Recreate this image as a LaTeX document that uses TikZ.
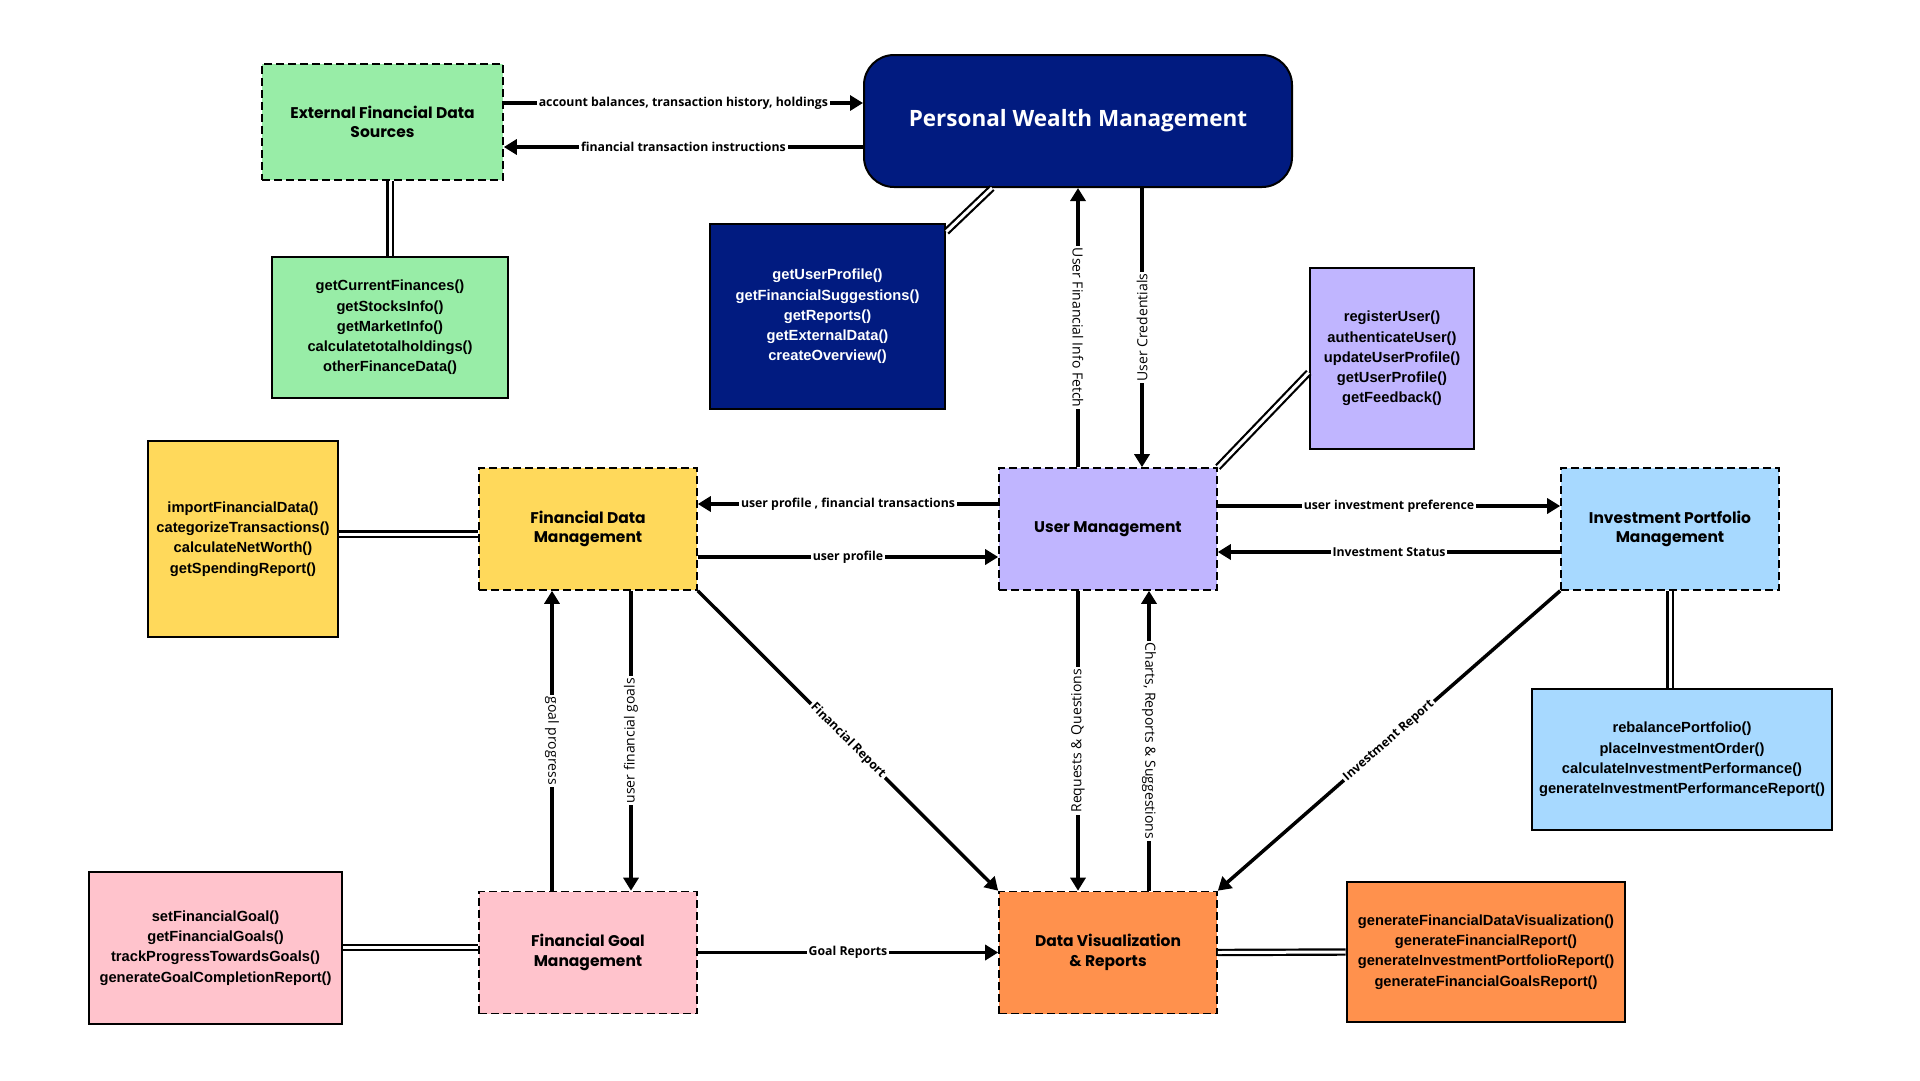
\documentclass[tikz,border=0pt]{standalone}
\usepackage{fontspec}
\usepackage{tikz}
\usetikzlibrary{arrows.meta,positioning,calc}

\newfontfamily\titlefont{Poppins}
\newfontfamily\methfont{Liberation Sans}
\newfontfamily\labelfont{Open Sans}

\definecolor{extgreen}{HTML}{98EDA7}
\definecolor{pwmnavy}{HTML}{011B80}
\definecolor{fdmyellow}{HTML}{FFD95B}
\definecolor{umpurple}{HTML}{C0B5FF}
\definecolor{ipmblue}{HTML}{A7D9FF}
\definecolor{fgmpink}{HTML}{FFC3CC}
\definecolor{dvrorange}{HTML}{FF914D}

\begin{document}
\begin{tikzpicture}[x=1pt, y=-1pt, >={Triangle[length=13pt,width=15pt]}]
\tikzstyle{module}=[draw=black, line width=1.6pt, dash pattern=on 8pt off 4pt, minimum width=218pt, minimum height=122pt, align=center, font=\titlefont\bfseries\fontsize{15.5}{19.5}\selectfont]
\tikzstyle{hub}=[draw=black, line width=2pt, rounded corners=30pt, fill=pwmnavy, text=white, minimum width=428pt, minimum height=132pt, font=\labelfont\bfseries\fontsize{22.5}{28}\selectfont]
\tikzstyle{methods}=[draw=black, line width=2.6pt, align=center, font=\methfont\bfseries\fontsize{14.7}{20.2}\selectfont]
\tikzstyle{flow}=[->, line width=3.5pt]
\tikzstyle{link}=[line width=2.2pt, double=white, double distance=3pt]
\tikzstyle{lbl}=[fill=white, inner sep=2pt, font=\labelfont\bfseries\fontsize{12.3}{14}\selectfont]
\tikzstyle{vlbl}=[fill=white, inner sep=2pt, font=\labelfont\fontsize{14}{16}\selectfont]

\fill[white] (0,0) rectangle (1920,1080);
\useasboundingbox (0,0) rectangle (1920,1080);

% modules
\node[module, fill=extgreen, minimum width=241pt, minimum height=116pt] (ext) at (382.5,122) {External Financial Data\\Sources};
\node[hub] (pwm) at (1078,121) {Personal Wealth Management};
\node[module, fill=fdmyellow] (fdm) at (588,529) {Financial Data\\Management};
\node[module, fill=umpurple] (um) at (1108,529) {User Management};
\node[module, fill=ipmblue] (ipm) at (1670,529) {Investment Portfolio\\Management};
\node[module, fill=fgmpink] (fgm) at (588,952.5) {Financial Goal\\Management};
\node[module, fill=dvrorange] (dvr) at (1108,952.5) {Data Visualization\\\& Reports};

% method boxes
\node[methods, fill=extgreen, minimum width=236pt, minimum height=141pt] (extfn) at (390,327.5) {getCurrentFinances()\\getStocksInfo()\\getMarketInfo()\\calculatetotalholdings()\\otherFinanceData()};
\node[methods, fill=pwmnavy, text=white, minimum width=235pt, minimum height=185pt] (pwmfn) at (827.5,316.5) {getUserProfile()\\getFinancialSuggestions()\\getReports()\\getExternalData()\\createOverview()};
\node[methods, fill=umpurple, minimum width=164pt, minimum height=181pt] (umfn) at (1392,358.5) {registerUser()\\authenticateUser()\\updateUserProfile()\\getUserProfile()\\getFeedback()};
\node[methods, fill=fdmyellow, minimum width=190pt, minimum height=196pt] (fdmfn) at (243,539) {importFinancialData()\\categorizeTransactions()\\calculateNetWorth()\\getSpendingReport()};
\node[methods, fill=ipmblue, minimum width=300pt, minimum height=141pt] (ipmfn) at (1682,759.5) {rebalancePortfolio()\\placeInvestmentOrder()\\calculateInvestmentPerformance()\\generateInvestmentPerformanceReport()};
\node[methods, fill=fgmpink, minimum width=253pt, minimum height=152pt] (fgmfn) at (215.5,948) {setFinancialGoal()\\getFinancialGoals()\\trackProgressTowardsGoals()\\generateGoalCompletionReport()};
\node[methods, fill=dvrorange, minimum width=278pt, minimum height=140pt] (dvrfn) at (1486,952) {generateFinancialDataVisualization()\\generateFinancialReport()\\generateInvestmentPortfolioReport()\\generateFinancialGoalsReport()};

% method links
\path
(extfn.north) edge[link] (extfn.north |- ext.south)
([xshift=-86pt]pwm.south) edge[link] ([yshift=-9pt]pwmfn.north east)
(um.north east) edge[link] ([yshift=-14pt]umfn.west)
([yshift=-5pt]fdm.west) edge[link] ([yshift=-5pt]fdm.west -| fdmfn.east)
(ipm.south) edge[link] (ipm.south |- ipmfn.north)
([yshift=5pt]fgm.west) edge[link] ([yshift=5pt]fgm.west -| fgmfn.east)
(dvr.east) edge[link] (dvrfn.west);

% data flows
\path
([yshift=19pt]ext.east) edge[flow] node[lbl]{account balances, transaction history, holdings} ([yshift=19pt]ext.east -| pwm.west)
([yshift=-26pt]pwm.west) edge[flow] node[lbl]{financial transaction instructions} ([yshift=-26pt]pwm.west -| ext.east)
([xshift=-30pt]um.north) edge[flow] node[vlbl, rotate=-90]{User Financial Info Fetch} ([xshift=-30pt]um.north |- pwm.south)
([xshift=34pt]um.north |- pwm.south) edge[flow] node[vlbl, rotate=90]{User Credentials} ([xshift=34pt]um.north)
([yshift=25pt]um.west) edge[flow] node[lbl]{user profile , financial transactions} ([yshift=25pt]um.west -| fdm.east)
([yshift=-28pt]fdm.east) edge[flow] node[lbl]{user profile} ([yshift=-28pt]fdm.east -| um.west)
([yshift=23pt]um.east) edge[flow] node[lbl]{user investment preference} ([yshift=23pt]um.east -| ipm.west)
([yshift=-23pt]ipm.west) edge[flow] node[lbl]{Investment Status} ([yshift=-23pt]ipm.west -| um.east)
([xshift=-36pt]fgm.north) edge[flow] node[vlbl, rotate=-90]{goal progress} ([xshift=-36pt]fgm.north |- fdm.south)
([xshift=43pt]fdm.south) edge[flow] node[vlbl, rotate=90]{user financial goals} ([xshift=43pt]fdm.south |- fgm.north)
(fdm.south east) edge[flow] node[lbl, sloped]{Financial Report} (dvr.north west)
(ipm.south west) edge[flow] node[lbl, sloped]{Investment Report} (dvr.north east)
([xshift=-30pt]um.south) edge[flow] node[vlbl, rotate=90]{Requests \& Questions} ([xshift=-30pt]um.south |- dvr.north)
([xshift=41pt]dvr.north) edge[flow] node[vlbl, rotate=-90]{Charts, Reports \& Suggestions} ([xshift=41pt]dvr.north |- um.south)
(fgm.east) edge[flow] node[lbl]{Goal Reports} (dvr.west);

\end{tikzpicture}
\end{document}
